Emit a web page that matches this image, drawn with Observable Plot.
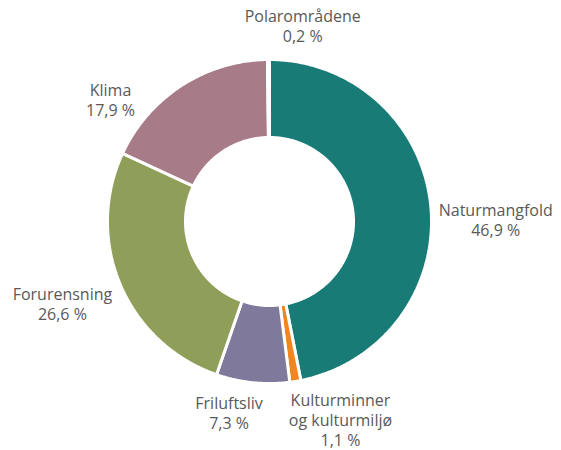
<!DOCTYPE html>
<html>
<head>
<meta charset="utf-8">
<script src="https://cdn.jsdelivr.net/npm/d3@7"></script>
<script src="https://cdn.jsdelivr.net/npm/@observablehq/plot@0.6"></script>
<style>
  html, body { margin: 0; padding: 0; background: #fff; }
  #chart { width: 561px; height: 450px; }
</style>
</head>
<body>
<div id="chart"></div>
<script>
// ---- data ----
const categories = ["Naturmangfold", "Kulturminner og kulturmiljø", "Friluftsliv", "Forurensning", "Klima", "Polarområdene"];
const labelLines = [["Naturmangfold"], ["Kulturminner", "og kulturmiljø"], ["Friluftsliv"], ["Forurensning"], ["Klima"], ["Polarområdene"]];
const shares = [46.9, 1.1, 7.3, 26.6, 17.9, 0.2];
const valueLabels = ["46,9 %", "1,1 %", "7,3 %", "26,6 %", "17,9 %", "0,2 %"];
const colors = ["#187b76", "#f0861f", "#7f799c", "#8f9f5a", "#a87b88", "#9cc3d5"];

// ---- layout ----
const W = 561, H = 450;
const cx = 269, cy = 221;
const R = 162, r0 = 84;
const labelGap = [7, 3, 7, 7, 7, 7];
const labelNudgeDeg = [5, -10.5, 6, 1.5, -19.5, 10];
const fontSize = 16, lineH = 1.25;
const fontFamily = "'Open Sans', 'Noto Sans', sans-serif";

const pie = d3.pie().sort(null).value(d => d.share).startAngle(0).endAngle(2 * Math.PI);
const rows = categories.map((c, i) => ({name: c, share: shares[i], lines: [...labelLines[i], valueLabels[i]]}));
const arcs = pie(rows);

// polygon outline of each slice (x right, y up)
const pts = [];
for (const a of arcs) {
  const n = Math.max(2, Math.ceil((a.endAngle - a.startAngle) / 0.01));
  for (let k = 0; k <= n; k++) {
    const t = a.startAngle + (a.endAngle - a.startAngle) * k / n;
    pts.push({name: a.data.name, x: R * Math.sin(t), y: R * Math.cos(t)});
  }
  for (let k = n; k >= 0; k--) {
    const t = a.startAngle + (a.endAngle - a.startAngle) * k / n;
    pts.push({name: a.data.name, x: r0 * Math.sin(t), y: r0 * Math.cos(t)});
  }
}

// label placement: box centre outside the ring along (nudged) mid angle
const ctx = document.createElement("canvas").getContext("2d");
ctx.font = `${fontSize}px ${fontFamily}`;
const labels = arcs.map((a, i) => {
  const lines = a.data.lines;
  const w = d3.max(lines, s => ctx.measureText(s).width);
  const h = lines.length * fontSize * lineH;
  const ang = (a.startAngle + a.endAngle) / 2 + labelNudgeDeg[i] * Math.PI / 180;
  const s = Math.sin(ang), c = Math.cos(ang);
  const d = R + labelGap[i] + Math.abs(s) * w / 2 + Math.abs(c) * h / 2;
  return {text: lines.join("\n"), x: d * s, y: d * c};
});

const chart = Plot.plot({
  width: W,
  height: H,
  margin: 0,
  x: {domain: [-cx, W - cx], axis: null},
  y: {domain: [cy - H, cy], axis: null},
  color: {domain: categories, range: colors},
  style: {background: "#fff", fontFamily},
  marks: [
    Plot.line(pts, {x: "x", y: "y", z: "name", fill: "name", stroke: "white", strokeWidth: 3, curve: "linear-closed", strokeLinejoin: "miter"}),
    Plot.text(labels, {x: "x", y: "y", text: "text", fill: "#595959", fontSize, lineHeight: lineH, textAnchor: "middle", lineAnchor: "middle", fontFamily})
  ]
});
document.getElementById("chart").appendChild(chart);
</script>
</body>
</html>
